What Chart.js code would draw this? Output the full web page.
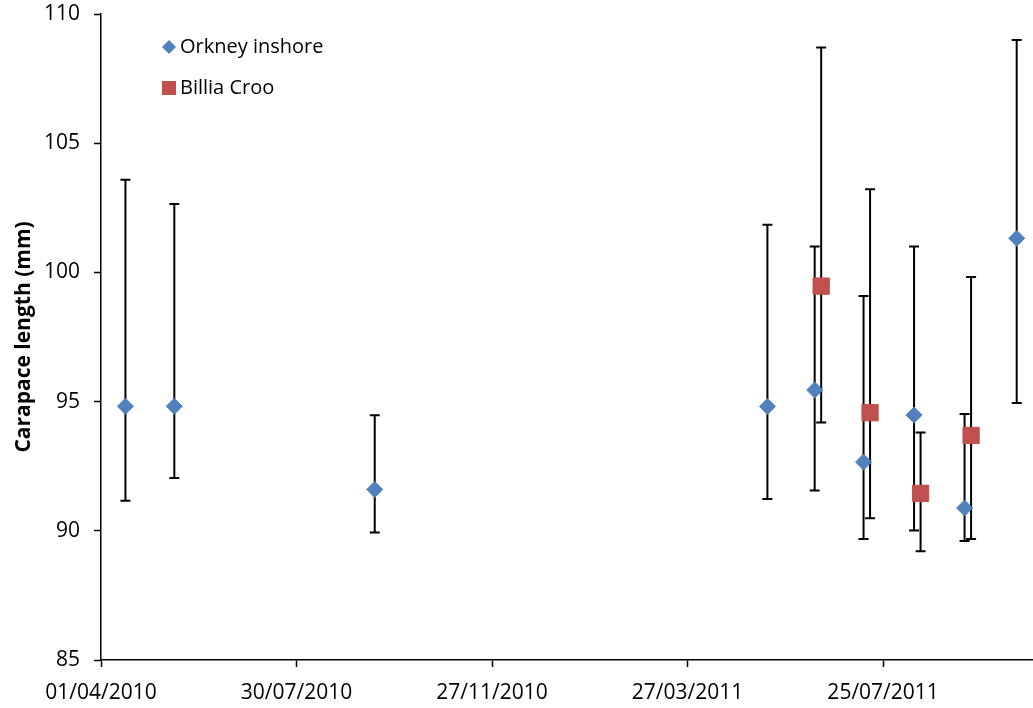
<!DOCTYPE html>
<html>
<head>
<meta charset="utf-8">
<script src="https://cdn.jsdelivr.net/npm/chart.js@4/dist/chart.umd.min.js"></script>
<style>
  html, body { margin: 0; padding: 0; background: #fff; overflow: hidden; }
  #wrap { width: 1033px; height: 708px; position: relative; overflow: hidden; }
  #wrap canvas { display: block; }
</style>
</head>
<body>
<div id="wrap"><canvas id="scatterChart"></canvas></div>
<script>
// series values
var orkneyDates = ['2010-04-16', '2010-05-16', '2010-09-16', '2011-05-15', '2011-06-13', '2011-07-13', '2011-08-13', '2011-09-13', '2011-10-15'];
var orkneyMean = [94.82, 94.82, 91.60, 94.81, 95.45, 92.66, 94.48, 90.88, 101.32];
var orkneyLow = [91.16, 92.04, 89.93, 91.23, 91.56, 89.68, 90.01, 89.61, 94.95];
var orkneyHigh = [103.59, 102.65, 94.47, 101.84, 101.00, 99.09, 101.00, 94.52, 108.99];

var billiaDates = ['2011-06-17', '2011-07-17', '2011-08-17', '2011-09-17'];
var billiaMean = [99.47, 94.57, 91.45, 93.69];
var billiaLow = [94.19, 90.49, 89.21, 89.68];
var billiaHigh = [108.70, 103.22, 93.80, 99.82];

var tickLabels = ['01/04/2010', '30/07/2010', '27/11/2010', '27/03/2011', '25/07/2011'];
var axisStart = '2010-04-01';
var axisEnd = '2011-10-25';

var FONT = "'Open Sans', 'Noto Sans', sans-serif";

function dayOf(iso) {
    var p = iso.split('-');
    var s = axisStart.split('-');
    return (Date.UTC(+p[0], p[1] - 1, +p[2]) - Date.UTC(+s[0], s[1] - 1, +s[2])) / 86400000;
}
function dayOfLabel(lbl) {
    var p = lbl.split('/');
    return dayOf(p[2] + '-' + p[1] + '-' + p[0]);
}

function points(dates, vals, lows, highs) {
    return dates.map(function (d, i) {
        return { x: dayOf(d), y: vals[i], low: lows[i], high: highs[i] };
    });
}

var tickDays = tickLabels.map(dayOfLabel);

// vertical error bars with caps, drawn under the markers
var errorBars = {
    id: 'errorBars',
    beforeDatasetsDraw: function (chart) {
        var ctx = chart.ctx;
        var xs = chart.scales.x, ys = chart.scales.y;
        ctx.save();
        ctx.strokeStyle = '#000';
        ctx.lineWidth = 2;
        chart.data.datasets.forEach(function (ds) {
            ds.data.forEach(function (pt) {
                var px = xs.getPixelForValue(pt.x);
                var top = ys.getPixelForValue(pt.high);
                var bot = ys.getPixelForValue(pt.low);
                ctx.beginPath();
                ctx.moveTo(px, top); ctx.lineTo(px, bot);
                ctx.moveTo(px - 5, top); ctx.lineTo(px + 5, top);
                ctx.moveTo(px - 5, bot); ctx.lineTo(px + 5, bot);
                ctx.stroke();
            });
        });
        ctx.restore();
    }
};

// legend inside the plot, top left
var legendBox = {
    id: 'legendBox',
    afterDraw: function (chart) {
        var ctx = chart.ctx;
        ctx.save();
        ctx.font = '20px ' + FONT;
        ctx.textBaseline = 'middle';
        chart.data.datasets.forEach(function (ds, i) {
            var cy = 47 + i * 41;
            var cx = 169;
            ctx.fillStyle = ds.backgroundColor;
            ctx.beginPath();
            if (ds.pointStyle === 'rectRot') {
                ctx.moveTo(cx - 7, cy); ctx.lineTo(cx, cy - 7);
                ctx.lineTo(cx + 7, cy); ctx.lineTo(cx, cy + 7);
                ctx.closePath();
            } else {
                ctx.rect(cx - 7, cy - 7, 14, 14);
            }
            ctx.fill();
            ctx.fillStyle = '#000';
            ctx.fillText(ds.label, 180, cy);
        });
        ctx.restore();
    }
};

new Chart(document.getElementById('scatterChart').getContext('2d'), {
    type: 'scatter',
    data: {
        datasets: [{
            label: 'Orkney inshore',
            data: points(orkneyDates, orkneyMean, orkneyLow, orkneyHigh),
            pointStyle: 'rectRot',
            pointRadius: 8,
            backgroundColor: '#4F81BD',
            borderColor: '#4F81BD',
            borderWidth: 1
        }, {
            label: 'Billia Croo',
            data: points(billiaDates, billiaMean, billiaLow, billiaHigh),
            pointStyle: 'rect',
            pointRadius: 11.5,
            backgroundColor: '#C0504D',
            borderColor: '#C0504D',
            borderWidth: 1
        }]
    },
    options: {
        responsive: true,
        maintainAspectRatio: false,
        animation: false,
        clip: false,
        layout: { autoPadding: false, padding: { top: 14, right: 0, bottom: 0, left: 0 } },
        plugins: {
            legend: { display: false },
            tooltip: { enabled: false }
        },
        scales: {
            x: {
                type: 'linear',
                min: 0,
                max: dayOf(axisEnd),
                afterBuildTicks: function (scale) {
                    scale.ticks = tickDays.map(function (v) { return { value: v }; });
                },
                afterFit: function (scale) {
                    scale.height = 48;
                    scale.paddingLeft = 0;
                    scale.paddingRight = 0;
                },
                grid: { drawOnChartArea: false, drawTicks: true, tickLength: 7, tickWidth: 1.5, color: '#000' },
                border: { display: true, color: '#000', width: 1.5 },
                ticks: {
                    autoSkip: false,
                    maxRotation: 0,
                    padding: 13,
                    color: '#000',
                    font: { family: FONT, size: 21 },
                    callback: function (value, index) { return tickLabels[index]; }
                }
            },
            y: {
                min: 85,
                max: 110,
                afterFit: function (scale) {
                    scale.width = 101;
                    scale.paddingTop = 0;
                    scale.paddingBottom = 0;
                },
                grid: { drawOnChartArea: false, drawTicks: true, tickLength: 7, tickWidth: 1.5, color: '#000' },
                border: { display: true, color: '#000', width: 1.5 },
                ticks: {
                    stepSize: 5,
                    padding: 14,
                    color: '#000',
                    font: { family: FONT, size: 21 }
                },
                title: {
                    display: true,
                    text: 'Carapace length (mm)',
                    color: '#000',
                    font: { family: FONT, size: 21, weight: 'bold' },
                    padding: { top: 11, bottom: 0 }
                }
            }
        }
    },
    plugins: [errorBars, legendBox]
});
</script>
</body>
</html>
